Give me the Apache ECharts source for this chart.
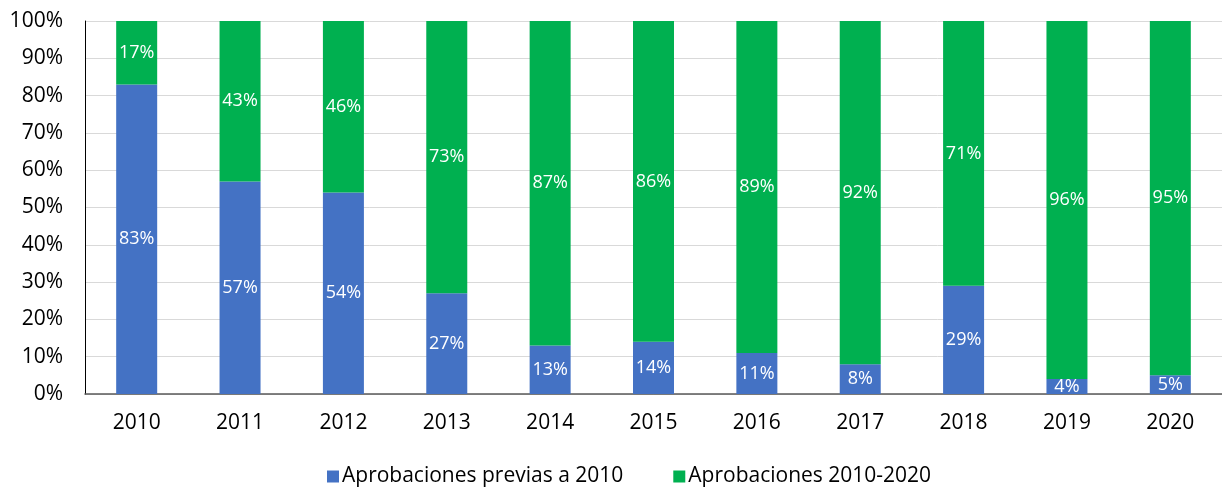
<!DOCTYPE html>
<html>
<head>
<meta charset="utf-8">
<script src="https://cdn.jsdelivr.net/npm/echarts@6/dist/echarts.min.js"></script>
<style>
  html, body { margin: 0; padding: 0; background: #fff; }
  #chart { width: 1222px; height: 489px; }
</style>
</head>
<body>
<div id="chart"></div>
<script>
const years = ['2010', '2011', '2012', '2013', '2014', '2015', '2016', '2017', '2018', '2019', '2020']
const previas = [83, 57, 54, 27, 13, 14, 11, 8, 29, 4, 5]
const recientes = [17, 43, 46, 73, 87, 86, 89, 92, 71, 96, 95]
const seriesNames = ['Aprobaciones previas a 2010', 'Aprobaciones 2010-2020']
const colors = ['#4472C4', '#00B050']

const font = '"Open Sans", "Noto Sans", sans-serif'

const labelStyle = {
  show: true,
  position: 'inside',
  color: '#fff',
  fontSize: 18,
  fontFamily: font,
  formatter: p => p.value + '%'
}

const chart = echarts.init(document.getElementById('chart'))
chart.setOption({
  animation: false,
  color: colors,
  grid: { left: 85, right: -4, top: 21, bottom: 95 },
  legend: {
    top: 461,
    left: 322,
    itemWidth: 12,
    itemHeight: 12,
    itemGap: 50,
    icon: 'rect',
    textStyle: { fontSize: 21, fontFamily: font, color: '#000', padding: [0, 0, 0, -2] },
    data: seriesNames
  },
  xAxis: {
    type: 'category',
    data: years,
    axisLine: { lineStyle: { color: '#595959', width: 1.5 } },
    axisTick: { show: false },
    axisLabel: { color: '#000', fontSize: 21, fontFamily: font, margin: 19 }
  },
  yAxis: {
    type: 'value',
    min: 0,
    max: 100,
    interval: 10,
    axisLine: { show: true, lineStyle: { color: '#000', width: 1 } },
    axisTick: { show: false },
    splitLine: { lineStyle: { color: '#D9D9D9', width: 1 } },
    axisLabel: { color: '#000', fontSize: 21, fontFamily: font, margin: 22, formatter: '{value}%' }
  },
  series: [
    { name: seriesNames[0], type: 'bar', stack: 'total', barWidth: 41, data: previas, label: labelStyle },
    { name: seriesNames[1], type: 'bar', stack: 'total', barWidth: 41, data: recientes, label: labelStyle }
  ]
})
</script>
</body>
</html>
